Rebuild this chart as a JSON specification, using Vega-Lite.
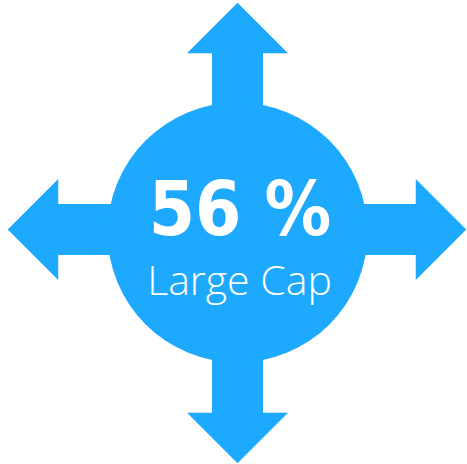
{
  "$schema": "https://vega.github.io/schema/vega-lite/v6.json",
  "width": 467,
  "height": 464,
  "autosize": {"type": "fit", "contains": "padding"},
  "padding": 0,
  "background": "white",
  "config": {"view": {"stroke": null}},
  "datasets": {
    "shafts": [
      {"part": "vertical", "x": 212, "x2": 263, "y": 50, "y2": 416},
      {"part": "horizontal", "x": 55, "x2": 419, "y": 204, "y2": 255}
    ],
    "heads": [
      {"dir": "up", "x": 237.5, "y": 28},
      {"dir": "down", "x": 237.5, "y": 438},
      {"dir": "left", "x": 33, "y": 229.5},
      {"dir": "right", "x": 441, "y": 229.5}
    ],
    "disc": [
      {"x": 237.5, "y": 232.5}
    ],
    "labels": [
      {"label": "56 %", "role": "value", "x": 240, "y": 235},
      {"label": "Large Cap", "role": "name", "x": 239.5, "y": 295}
    ]
  },
  "layer": [
    {
      "data": {"name": "shafts"},
      "mark": {"type": "rect", "color": "#1CA9FE"},
      "encoding": {
        "x": {"field": "x", "type": "quantitative", "scale": {"domain": [0, 467], "nice": false, "zero": false}, "axis": null},
        "x2": {"field": "x2"},
        "y": {"field": "y", "type": "quantitative", "scale": {"domain": [0, 464], "nice": false, "zero": false, "reverse": true}, "axis": null},
        "y2": {"field": "y2"}
      }
    },
    {
      "data": {"name": "heads"},
      "mark": {"type": "point", "filled": true, "opacity": 1, "color": "#1CA9FE", "size": 10201},
      "encoding": {
        "x": {"field": "x", "type": "quantitative", "axis": null},
        "y": {"field": "y", "type": "quantitative", "axis": null},
        "shape": {
          "field": "dir",
          "type": "nominal",
          "legend": null,
          "scale": {
            "domain": ["up", "down", "left", "right"],
            "range": ["M-1,0.5L0,-0.5L1,0.5Z", "M-1,-0.5L0,0.5L1,-0.5Z", "M0.5,-1L-0.5,0L0.5,1Z", "M-0.5,-1L0.5,0L-0.5,1Z"]
          }
        }
      }
    },
    {
      "data": {"name": "disc"},
      "mark": {"type": "point", "shape": "circle", "filled": true, "opacity": 1, "color": "#1CA9FE", "size": 67600},
      "encoding": {
        "x": {"field": "x", "type": "quantitative", "axis": null},
        "y": {"field": "y", "type": "quantitative", "axis": null}
      }
    },
    {
      "data": {"name": "labels"},
      "transform": [{"filter": "datum.role === 'value'"}],
      "mark": {"type": "text", "color": "white", "font": "'DejaVu Sans Condensed', Roboto, sans-serif", "fontWeight": "bold", "fontSize": 74, "baseline": "alphabetic", "align": "center"},
      "encoding": {
        "x": {"field": "x", "type": "quantitative", "axis": null},
        "y": {"field": "y", "type": "quantitative", "axis": null},
        "text": {"field": "label"}
      }
    },
    {
      "data": {"name": "labels"},
      "transform": [{"filter": "datum.role === 'name'"}],
      "mark": {"type": "text", "color": "white", "font": "Open Sans", "fontWeight": 300, "fontSize": 41, "baseline": "alphabetic", "align": "center"},
      "encoding": {
        "x": {"field": "x", "type": "quantitative", "axis": null},
        "y": {"field": "y", "type": "quantitative", "axis": null},
        "text": {"field": "label"}
      }
    }
  ]
}
